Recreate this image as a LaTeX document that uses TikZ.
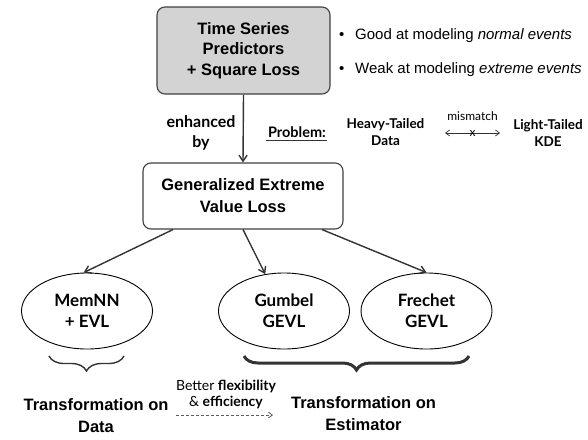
\documentclass[tikz,border=0pt]{standalone}
\usepackage{fontspec}
\newfontfamily\arial{Liberation Sans}
\newfontfamily\hum{Lato}
\usetikzlibrary{shapes.geometric,arrows.meta,decorations.pathreplacing}
\definecolor{boxgray}{RGB}{211,211,211}
\definecolor{ink}{RGB}{51,51,51}
\begin{document}
\begin{tikzpicture}[x=1pt,y=-1pt,
  ln/.style={draw=ink, line width=1.4pt},
  arr/.style={ln, -{Straight Barb[length=6pt,width=8pt]}},
  box/.style={draw=black!75, line width=1.1pt, rounded corners=8pt, inner sep=0pt, align=center},
  boxfont/.style={font=\arial\fontsize{16.5}{20.5}\selectfont\bfseries},
  ell/.style={ellipse, draw=black, line width=0.9pt, minimum width=131pt, minimum height=76pt, inner sep=0pt, align=center, font=\hum\fontsize{17}{21}\selectfont\bfseries},
  bullet/.style={anchor=west, inner sep=0pt, font=\arial\fontsize{15}{18}\selectfont},
  humb/.style={inner sep=0pt, align=center, font=\hum\fontsize{13.5}{17}\selectfont\bfseries},
  bigtxt/.style={inner sep=0pt, align=center, font=\arial\fontsize{16.5}{22}\selectfont\bfseries},
  bracethin/.style={draw=ink, line width=1.4pt, decorate, decoration={brace, mirror, amplitude=15pt}},
  bracethick/.style={draw=ink, line width=3pt, decorate, decoration={brace, mirror, amplitude=14pt}},
]
\useasboundingbox (0,0) rectangle (588,439);

% top box
\node[box, boxfont, fill=boxgray, minimum width=173pt, minimum height=87pt] (ts) at (243.5,50.5) {Time Series\\Predictors\\+ Square Loss};

% bullets
\node[bullet] (b1) at (339,36) {\makebox[16pt][l]{\textbullet}Good at modeling \textit{normal events}};
\node[bullet] (b2) at (339,70) {\makebox[16pt][l]{\textbullet}Weak at modeling \textit{extreme events}};

% GEVL box
\node[box, fill=white, minimum width=200pt, minimum height=66pt, font=\arial\fontsize{16.5}{22}\selectfont\bfseries] (gevl) at (243,196) {Generalized Extreme\\Value Loss};

\draw[arr] (ts.south) -- (gevl.north);

% enhanced by
\node[inner sep=0pt, align=center, font=\hum\fontsize{16}{20}\selectfont\bfseries] (enh) at (201,133) {enhanced\\by};

% problem
\node[inner sep=0pt, font=\hum\fontsize{14.5}{17}\selectfont\bfseries] (prob) at (297,132) {Problem:};
\draw[draw=ink, line width=1.3pt] ([yshift=-3.5pt,xshift=-2pt]prob.base west) -- ([yshift=-3.5pt,xshift=1pt]prob.base east);

\node[humb] (heavy) at (385.5,132.5) {Heavy-Tailed\\Data};
\node[humb] (light) at (548,132.5) {Light-Tailed\\KDE};
\coordinate (mmL) at (445,133);
\coordinate (mmR) at (500,133);
\draw[draw=ink, line width=0.7pt, {Straight Barb[length=4pt,width=6pt]}-{Straight Barb[length=4pt,width=6pt]}] (mmL) -- node[midway, inner sep=0pt, font=\hum\fontsize{12}{12}\selectfont] (xmark) {x} (mmR);
\node[inner sep=0pt, font=\hum\fontsize{12}{14}\selectfont] (mism) at (472.5,116) {mismatch};

% ellipses
\node[ell] (mem) at (87,311) {MemNN\\+ EVL};
\node[ell] (gum) at (284,311) {Gumbel\\GEVL};
\node[ell] (fre) at (426.5,311) {Frechet\\GEVL};

\draw[arr] ([xshift=-70pt]gevl.south) -- (mem.95);
\draw[arr] (gevl.south) -- (gum.117);
\draw[arr] ([xshift=79pt]gevl.south) -- (fre.north);

% braces
\coordinate (sbL) at (49,356);
\coordinate (sbR) at (124,356);
\coordinate (bbL) at (244,356);
\coordinate (bbR) at (469,356);
\draw[bracethin] (sbL) -- (sbR);
\draw[bracethick] (bbL) -- (bbR);

% bottom texts
\node[bigtxt] (tdata) at (96,416) {Transformation on\\Data};
\node[bigtxt] (test) at (363.5,413.5) {Transformation on\\Estimator};
\node[inner sep=0pt, align=center, font=\hum\fontsize{14}{15.5}\selectfont] (better) at (226,394.5) {Better \textbf{flexibility}\\\& \textbf{efficiency}};
\coordinate (daL) at (176,415);
\coordinate (daR) at (273,415);
\draw[draw=ink!80, line width=0.8pt, dash pattern=on 3pt off 2pt, -{Straight Barb[length=4pt,width=6pt]}] (daL) -- (daR);
\end{tikzpicture}
\end{document}
